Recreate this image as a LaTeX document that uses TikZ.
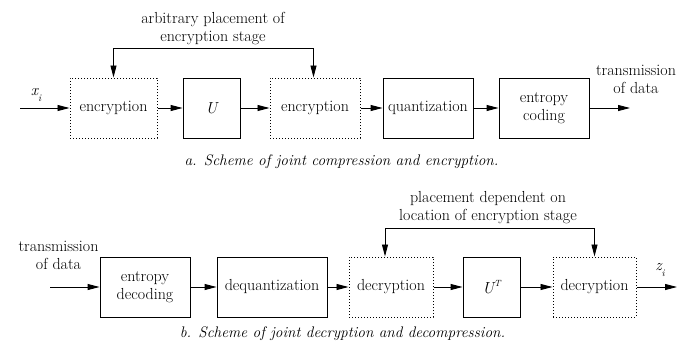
\documentclass[tikz,border=0pt]{standalone}
\usepackage{fontspec}
\usetikzlibrary{arrows.meta,positioning}
\begin{document}
\begin{tikzpicture}[x=1pt,y=-1pt,
  every node/.style={font=\fontsize{16}{18}\selectfont, inner sep=0pt},
  blk/.style={draw, line width=0.9pt, minimum height=60pt, align=center},
  dotblk/.style={draw, dotted, line width=1pt, minimum height=60pt, align=center},
  flow/.style={line width=0.9pt, -{Triangle[length=12pt,width=6pt]}},
  lbl/.style={align=center},
  captiontext/.style={font=\fontsize{15.3}{18}\selectfont\itshape}]
  \useasboundingbox (0,0) rectangle (693,356);

  % compression and encryption chain
  \node[dotblk, minimum width=87pt] (enc1) at (113.5,108) {encryption};
  \node[blk, minimum width=57pt] (u) at (211.5,108) {\itshape U};
  \node[dotblk, minimum width=90pt] (enc2) at (315,108) {encryption};
  \node[blk, minimum width=90pt] (quant) at (428,108) {quantization};
  \node[blk, minimum width=90pt] (ecod) at (544,108) {entropy\\coding};
  \coordinate (xin) at (20,108);
  \coordinate (txout) at (630,108);
  \node (xi) at (36,95) {\itshape x\raisebox{-6pt}{\fontsize{10}{10}\selectfont i}};
  \node[lbl] (txa) at (636,79) {transmission\\of data};
  \node[lbl] (arb) at (213,29) {arbitrary placement of\\encryption stage};
  \draw[flow] (xin) -- (enc1);
  \draw[flow] (enc1) -- (u);
  \draw[flow] (u) -- (enc2);
  \draw[flow] (enc2) -- (quant);
  \draw[flow] (quant) -- (ecod);
  \draw[flow] (ecod) -- (txout);
  \coordinate (topa) at (0,48);
  \draw[flow] (enc1.north |- topa) -- (enc1.north);
  \draw[line width=0.9pt] (enc1.north |- topa) -- ([xshift=-1.5pt]enc2.north |- topa);
  \draw[flow] ([xshift=-1.5pt]enc2.north |- topa) -- ([xshift=-1.5pt]enc2.north);
  \node[captiontext] (capa) at (341.5,162) {a. Scheme of joint compression and encryption.};

  % decryption and decompression chain
  \node[blk, minimum width=90pt] (edec) at (145,287) {entropy\\decoding};
  \node[blk, minimum width=110pt] (dequant) at (272,287) {dequantization};
  \node[dotblk, minimum width=84pt] (dec1) at (391,287) {decryption};
  \node[blk, minimum width=57pt] (ut) at (491.5,287) {\itshape U\raisebox{7pt}{\fontsize{9}{9}\selectfont T}};
  \node[dotblk, minimum width=83pt] (dec2) at (594.5,287) {decryption};
  \coordinate (txin) at (50,287);
  \coordinate (zout) at (677,287);
  \node[lbl] (txb) at (58.5,255) {transmission\\of data};
  \node (zi) at (660,270) {\itshape z\raisebox{-6pt}{\fontsize{10}{10}\selectfont i}};
  \node[lbl] (dep) at (488,208) {placement dependent on\\location of encryption stage};
  \draw[flow] (txin) -- (edec);
  \draw[flow] (edec) -- (dequant);
  \draw[flow] (dequant) -- (dec1);
  \draw[flow] (dec1) -- (ut);
  \draw[flow] (ut) -- (dec2);
  \draw[flow] (dec2) -- (zout);
  \coordinate (topb) at (0,228);
  \draw[flow] ([xshift=-6pt]dec1.north |- topb) -- ([xshift=-6pt]dec1.north);
  \draw[line width=0.9pt] ([xshift=-6pt]dec1.north |- topb) -- (dec2.north |- topb);
  \draw[flow] (dec2.north |- topb) -- (dec2.north);
  \node[captiontext] (capb) at (342.5,334) {b. Scheme of joint decryption and decompression.};
\end{tikzpicture}
\end{document}
